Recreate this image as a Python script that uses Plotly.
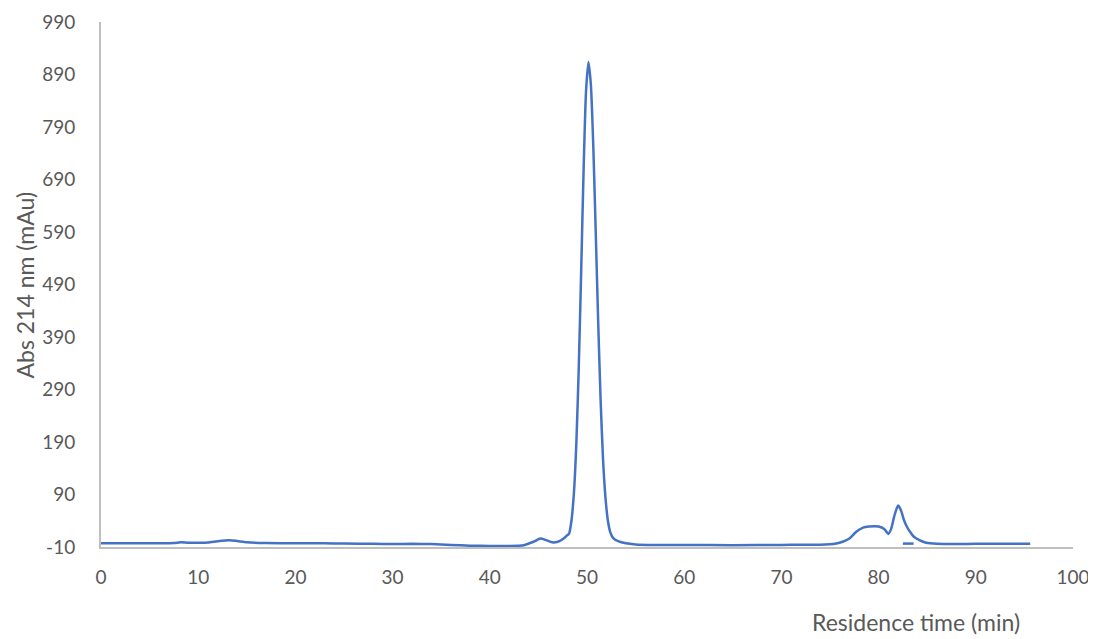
import plotly.graph_objects as go

# Residence time (min) and absorbance (mAu)
time_min = [0, 2, 4, 6, 7.5, 8.2, 9, 10, 11, 12, 13.2, 14, 15, 17, 20, 23, 25, 28, 30, 32,
            34, 36, 38, 40, 42, 43.5, 44.5, 45.2, 45.8, 46.4, 47, 47.6, 48.0, 48.15, 48.4,
            48.65, 48.9, 49.15, 49.4, 49.65, 49.9, 50.15, 50.4, 50.65, 50.9, 51.15, 51.4,
            51.65, 51.9, 52.15, 52.4, 52.7, 53.2, 54, 55, 57, 60, 65, 70, 74, 75.5, 76.3,
            77, 77.7, 78.4, 79, 80, 80.6, 81.0, 81.3, 81.6, 82.0, 82.3, 82.6, 82.9, 83.3,
            83.6, 84.2, 84.9, 86, 88, 90, 92, 95.6]
abs_mau = [-3, -3, -3, -3, -2.5, -1, -2, -2, -1.5, 1, 3, 1.5, -1, -2.5, -3, -3, -3.5, -4, -4.5, -4,
           -4.5, -6, -7.5, -8, -8, -6.5, 0, 6, 3, -1, 0, 6, 13, 15, 40,
           92, 186, 330, 515, 708, 858, 914, 870, 752, 589, 419, 270,
           157, 84, 40, 18, 7, 1, -3, -5, -6, -6, -6.5, -6, -5.5, -4, 0,
           6, 19, 27, 29, 29, 24, 15, 25, 48, 69, 60, 42, 29, 17,
           10, 3, -2, -4, -4.5, -4, -4, -4]

# Short separate segment near 82.5-83.6 min
dash_time = [82.5, 83.6]
dash_abs = [-3.5, -3.5]

x_ticks = [0, 10, 20, 30, 40, 50, 60, 70, 80, 90, 100]
y_ticks = [-10, 90, 190, 290, 390, 490, 590, 690, 790, 890, 990]

blue = "#4472C4"
grey_text = "#595959"
font_family = "Lato, 'Open Sans', sans-serif"

fig = go.Figure()
fig.add_trace(go.Scatter(x=time_min, y=abs_mau, mode="lines",
                         line=dict(color=blue, width=2.5, shape="spline", smoothing=0.6),
                         showlegend=False, hoverinfo="x+y"))
fig.add_trace(go.Scatter(x=dash_time, y=dash_abs, mode="lines",
                         line=dict(color=blue, width=2.5),
                         showlegend=False, hoverinfo="x+y"))

fig.update_layout(
    width=1088, height=631,
    margin=dict(l=93, r=23, t=14, b=91.5),
    plot_bgcolor="white", paper_bgcolor="white",
    font=dict(family=font_family, size=19, color=grey_text),
    xaxis=dict(range=[0, 100], tickvals=x_ticks, ticktext=[str(v) for v in x_ticks],
               showgrid=False, zeroline=False, showline=True, linecolor="#BFBFBF",
               linewidth=2, ticks="", ticklabelstandoff=12, automargin=False,
               tickfont=dict(size=19, color=grey_text)),
    yaxis=dict(range=[-10, 990], tickvals=y_ticks, ticktext=[str(v) for v in y_ticks],
               showgrid=False, zeroline=False, showline=True, linecolor="#BFBFBF",
               linewidth=2, ticks="", ticklabelstandoff=20, automargin=False,
               tickfont=dict(size=19, color=grey_text)),
    annotations=[
        dict(text="Residence time (min)", xref="paper", yref="paper",
             x=0.8385, y=-0.1437, xanchor="center", yanchor="middle",
             showarrow=False, font=dict(size=23, color=grey_text)),
        dict(text="Abs 214 nm (mAu)", xref="paper", yref="paper",
             x=-0.0782, y=0.5, xanchor="center", yanchor="middle", textangle=-90,
             showarrow=False, font=dict(size=23, color=grey_text)),
    ],
)

fig.write_html("out.html")
